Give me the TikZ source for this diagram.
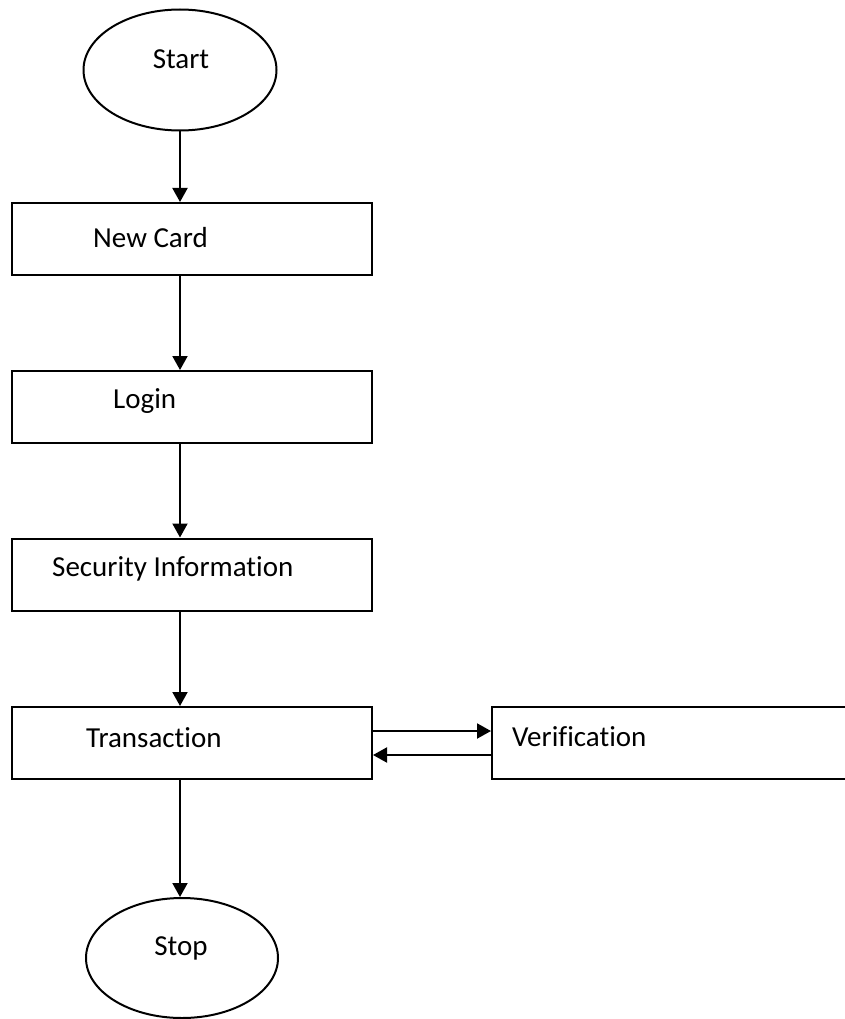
\documentclass[tikz,border=0pt]{standalone}
\usepackage{fontspec}
\setmainfont{Carlito}[Ligatures=NoCommon]
\usepackage{tikz}
\usetikzlibrary{shapes.geometric,arrows.meta}
\tikzset{
    stepbox/.style={rectangle, draw, line width=2pt, minimum width=360pt,
    	minimum height=72pt, inner sep=0pt}
}
\tikzset{
    terminal/.style={ellipse, draw, line width=2pt, minimum width=193pt,
    	minimum height=121pt, inner sep=0pt}
}
\tikzset{
    txt/.style={anchor=west, inner sep=0pt, font=\fontsize{29}{35}\selectfont}
}
\tikzset{
    flow/.style={-{Triangle[width=15pt,length=14pt]}, line width=2pt}
}

\begin{document}
\begin{tikzpicture}[x=1pt, y=-1pt]
  \useasboundingbox (0,0) rectangle (845,1019);
  \node (start) [terminal] at (180,70) {};
  \node (newcard) [stepbox] at (192,239) {};
  \node (login) [stepbox] at (192,407) {};
  \node (security) [stepbox] at (192,574.5) {};
  \node (trans) [stepbox] at (192,743) {};
  \node (verif) [stepbox, minimum width=358pt] at (671,743) {};
  \node (stop) [terminal, minimum width=192pt, minimum height=120pt] at (182,958) {};

  \node (startlbl) [txt, anchor=center] at (181,59) {Start};
  \node (newcardlbl) [txt] at (93,238) {New Card};
  \node (loginlbl) [txt] at (113,401) {Login};
  \node (securitylbl) [txt] at (52,569) {Security Information};
  \node (translbl) [txt] at (86,738) {Transaction};
  \node (veriflbl) [txt] at (512,737) {Verification};
  \node (stoplbl) [txt, anchor=center] at (181,948) {Stop};

  \draw [flow] (start.south) -- (start.south |- newcard.north);
  \draw [flow] (newcard.south -| start.south) -- (login.north -| start.south);
  \draw [flow] (login.south -| start.south) -- (security.north -| start.south);
  \draw [flow] (security.south -| start.south) -- (trans.north -| start.south);
  \draw [flow] ([yshift=12pt]trans.east) -- ([yshift=12pt]verif.west);
  \draw [flow] ([yshift=-12pt]verif.west) -- ([yshift=-12pt]trans.east);
  \draw [flow] (trans.south -| start.south) -- (stop.north -| start.south);
\end{tikzpicture}
\end{document}
